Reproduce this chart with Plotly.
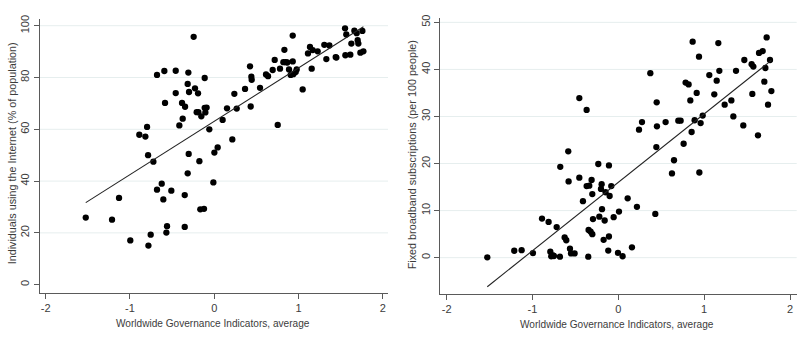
import plotly.graph_objects as go

# ---------------- data ----------------
wgi_left = [-1.525, -1.213, -1.130, -0.996, -0.889, -0.817, -0.797, -0.785, -0.781, -0.754,
            -0.722, -0.679, -0.679, -0.623, -0.604, -0.592, -0.584, -0.568, -0.560, -0.509,
            -0.457, -0.457, -0.414, -0.382, -0.374, -0.350, -0.350, -0.346, -0.315, -0.315,
            -0.307, -0.303, -0.299, -0.244, -0.228, -0.208, -0.192, -0.188, -0.176, -0.165,
            -0.153, -0.121, -0.113, -0.113, -0.105, -0.090, -0.058, -0.010, 0.002, 0.041,
            0.100, 0.152, 0.215, 0.239, 0.267, 0.366, 0.425, 0.433, 0.441, 0.445,
            0.544, 0.615, 0.639, 0.694, 0.718, 0.754, 0.781, 0.821, 0.833, 0.848,
            0.868, 0.888, 0.908, 0.932, 0.932, 0.939, 0.967, 0.979, 1.050, 1.113,
            1.137, 1.157, 1.169, 1.228, 1.307, 1.331, 1.367, 1.442, 1.450, 1.553,
            1.557, 1.568, 1.616, 1.628, 1.664, 1.691, 1.703, 1.711, 1.735, 1.759, 1.771]
internet = [25.9, 25.1, 33.5, 17.1, 57.9, 57.2, 60.9, 50.0, 15.1, 19.3,
            47.5, 81.0, 36.7, 39.0, 32.9, 82.5, 70.2, 20.1, 22.6, 36.3,
            82.6, 74.0, 61.5, 70.2, 64.1, 34.6, 22.3, 68.7, 43.0, 77.5,
            81.9, 50.5, 74.4, 95.7, 75.8, 66.6, 73.9, 66.6, 47.7, 29.1,
            65.0, 29.3, 79.8, 68.3, 66.5, 68.4, 60.0, 39.5, 51.0, 53.0,
            63.6, 68.1, 56.1, 73.7, 68.0, 75.6, 84.3, 68.8, 80.3, 79.1,
            76.0, 81.2, 80.5, 82.9, 86.8, 61.7, 83.4, 85.9, 90.7, 85.9,
            85.8, 83.1, 81.0, 86.2, 96.2, 81.3, 82.1, 83.1, 75.4, 89.3,
            91.8, 83.4, 90.6, 90.1, 92.6, 87.1, 92.4, 87.9, 87.7, 99.0,
            88.6, 96.6, 88.8, 93.1, 98.1, 97.1, 94.4, 93.1, 89.6, 98.0, 90.1]

wgi_right = [-1.526, -1.212, -1.126, -0.994, -0.889, -0.812, -0.792, -0.781, -0.761, -0.750,
             -0.718, -0.680, -0.676, -0.625, -0.606, -0.583, -0.579, -0.563, -0.551, -0.509,
             -0.454, -0.454, -0.412, -0.369, -0.369, -0.350, -0.346, -0.338, -0.322, -0.311,
             -0.303, -0.303, -0.295, -0.233, -0.221, -0.202, -0.194, -0.190, -0.171, -0.159,
             -0.148, -0.117, -0.109, -0.109, -0.101, -0.082, -0.054, -0.004, 0.008, 0.050,
             0.109, 0.159, 0.217, 0.241, 0.276, 0.373, 0.431, 0.443, 0.447, 0.450,
             0.551, 0.625, 0.649, 0.699, 0.726, 0.761, 0.784, 0.819, 0.839, 0.854,
             0.866, 0.889, 0.913, 0.940, 0.944, 0.959, 0.983, 1.060, 1.118, 1.146,
             1.165, 1.177, 1.239, 1.317, 1.340, 1.371, 1.456, 1.468, 1.553, 1.561,
             1.573, 1.627, 1.639, 1.682, 1.701, 1.713, 1.728, 1.744, 1.767, 1.783]
broadband = [0.07, 1.47, 1.6, 0.98, 8.3, 7.6, 1.26, 0.28, 0.49, 0.35,
             6.5, 0.2, 19.3, 4.3, 3.7, 22.6, 16.2, 1.9, 0.9, 0.9,
             33.9, 17.0, 12.0, 31.4, 15.2, 0.2, 5.9, 15.3, 5.5, 16.5,
             13.5, 5.0, 8.2, 19.9, 8.7, 14.6, 15.6, 10.3, 3.8, 7.9,
             13.9, 1.5, 4.5, 19.6, 13.1, 15.2, 8.6, 1.0, 9.8, 0.3,
             12.6, 2.2, 10.8, 27.2, 28.8, 39.2, 9.3, 23.5, 33.0, 27.9,
             28.8, 17.9, 20.7, 29.1, 29.1, 24.2, 37.2, 36.8, 33.4, 26.7,
             45.9, 29.2, 35.0, 42.7, 18.1, 28.6, 30.2, 38.8, 34.7, 37.6,
             45.6, 39.7, 32.5, 33.4, 30.0, 39.7, 28.1, 42.0, 41.1, 34.8,
             40.6, 26.0, 43.5, 43.9, 37.4, 40.3, 46.8, 32.5, 42.0, 35.4]

# fitted line coefficients (intercept, slope)
fit_left = (63.1, 20.6)
fit_right = (16.0, 14.53)

x_ticks = [-2, -1, 0, 1, 2]
y_ticks_left = [0, 20, 40, 60, 80, 100]
y_ticks_right = [0, 10, 20, 30, 40, 50]

x_title = "Worldwide Governance Indicators, average"
y_title_left = "Individuals using the Internet (% of population)"
y_title_right = "Fixed broadband subscriptions (per 100 people)"

# ---------------- figure ----------------
W, H = 800, 352
AX = "#5a5a5a"
GRID = "#e6eeee"
TXT = "#3c3c3c"
FONT = "Liberation Sans, Arial, sans-serif"

fig = go.Figure()


def fit_line(xs, coef):
    x0, x1 = min(xs), max(xs)
    return [x0, x1], [coef[0] + coef[1] * x0, coef[0] + coef[1] * x1]


panels = [
    dict(xs=wgi_left, ys=internet, fit=fit_left, yt=y_ticks_left, xa="x", ya="y",
         xdom=[39.5 / W, 388 / W], ydom=[1 - 292 / H, 1 - 14.7 / H],
         xr=[-2.074, 2.063], yr=[-3.16, 102.4], grid=[20, 40, 60, 80, 100]),
    dict(xs=wgi_right, ys=broadband, fit=fit_right, yt=y_ticks_right, xa="x2", ya="y2",
         xdom=[440 / W, 796.7 / W], ydom=[1 - 293.3 / H, 1 - 13.3 / H],
         xr=[-2.077, 2.078], yr=[-7.75, 50.9], grid=[0, 10, 20, 30, 40, 50]),
]

for i, p in enumerate(panels):
    fx, fy = fit_line(p["xs"], p["fit"])
    fig.add_trace(go.Scatter(x=p["xs"], y=p["ys"], mode="markers", xaxis=p["xa"], yaxis=p["ya"],
                             marker=dict(color="black", size=6.3), showlegend=False))
    fig.add_trace(go.Scatter(x=fx, y=fy, mode="lines", xaxis=p["xa"], yaxis=p["ya"],
                             line=dict(color="#222222", width=1.1), showlegend=False))
    suffix = "" if i == 0 else "2"
    fig.update_layout(**{
        "xaxis" + suffix: dict(domain=p["xdom"], range=p["xr"], tickvals=x_ticks,
                               ticktext=[str(v) for v in x_ticks],
                               showgrid=False, zeroline=False, showline=True, linecolor=AX,
                               linewidth=1, ticks="outside", ticklen=5, tickcolor=AX,
                               tickfont=dict(family=FONT, size=11, color=TXT),
                               anchor="y" + suffix),
        "yaxis" + suffix: dict(domain=p["ydom"], range=p["yr"], tickvals=p["yt"],
                               ticktext=[str(v) for v in p["yt"]], tickangle=-90,
                               showgrid=False, zeroline=False, showline=True, linecolor=AX,
                               linewidth=1, ticks="outside", ticklen=5, tickcolor=AX,
                               tickfont=dict(family=FONT, size=11, color=TXT),
                               anchor="x" + suffix),
    })
    for g in p["grid"]:
        fig.add_shape(type="line", xref=p["xa"] + " domain", yref=p["ya"], x0=0, x1=1, y0=g, y1=g,
                      line=dict(color=GRID, width=1), layer="below")

annots = [
    dict(x=213.3 / W, y=1 - 322.7 / H, text=x_title, textangle=0, size=10.1),
    dict(x=617.2 / W, y=1 - 324.5 / H, text=x_title, textangle=0, size=10.1),
    dict(x=11.5 / W, y=1 - 151 / H, text=y_title_left, textangle=-90, size=10.8),
    dict(x=412 / W, y=1 - 152.5 / H, text=y_title_right, textangle=-90, size=10.8),
]
for a in annots:
    fig.add_annotation(xref="paper", yref="paper", x=a["x"], y=a["y"], text=a["text"],
                       textangle=a["textangle"], showarrow=False, xanchor="center", yanchor="middle",
                       font=dict(family=FONT, size=a["size"], color=TXT))

fig.update_layout(width=W, height=H, margin=dict(l=0, r=0, t=0, b=0),
                  paper_bgcolor="white", plot_bgcolor="white")

fig.write_html("out.html")
